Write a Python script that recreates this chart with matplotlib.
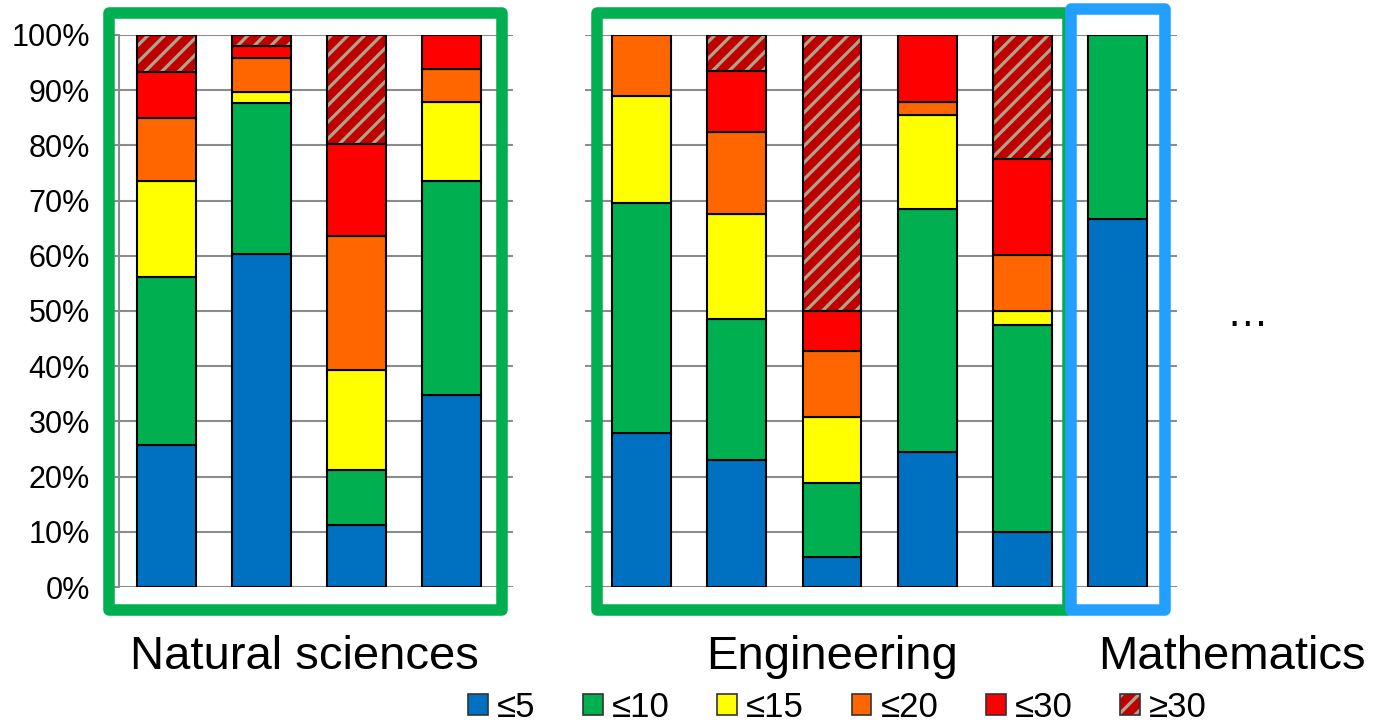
import matplotlib
matplotlib.use("Agg")
import matplotlib.pyplot as plt
import matplotlib.transforms as mtransforms
from matplotlib.patches import Patch, Rectangle
from matplotlib.ticker import PercentFormatter, MultipleLocator

plt.rcParams['font.family'] = ['Liberation Sans', 'DejaVu Sans']
plt.rcParams['hatch.linewidth'] = 2.3

# bar slots (slot 4 is the empty gap between the groups)
positions = [0, 1, 2, 3, 5, 6, 7, 8, 9, 10]
labels = ["≤5", "≤10", "≤15", "≤20", "≤30", "≥30"]
colors = ["#0070c0", "#00b050", "#ffff00", "#ff6600", "#ff0000", "#c00000"]
stripe = "#ada48c"

# share of each class per bar, in percent
le5 = [25.8, 60.4, 11.2, 34.7, 27.9, 23.0, 5.4, 24.4, 10.0, 66.7]
le10 = [30.4, 27.2, 10.0, 38.8, 41.6, 25.6, 13.4, 44.0, 37.5, 33.3]
le15 = [17.3, 2.0, 18.2, 14.3, 19.4, 19.0, 12.0, 17.1, 2.5, 0]
le20 = [11.5, 6.2, 24.1, 6.1, 11.1, 14.9, 11.9, 2.3, 10.1, 0]
le30 = [8.3, 2.2, 16.8, 6.1, 0, 10.9, 7.3, 12.2, 17.5, 0]
ge30 = [6.7, 2.0, 19.7, 0, 0, 6.6, 50.0, 0, 22.4, 0]
series = [le5, le10, le15, le20, le30, ge30]

groups = ["Natural sciences", "Engineering", "Mathematics"]
group_x = [1.45, 7.0, 11.21]

fig = plt.figure(figsize=(13.73, 7.23), dpi=100)
ax = fig.add_axes([0.0867, 0.1881, 0.7706, 0.7635])

width = 0.62
bottom = [0.0] * len(positions)
for k, vals in enumerate(series):
    for i, p in enumerate(positions):
        v = vals[i] / 100.0
        if v <= 0:
            continue
        if k == 5:
            ax.bar(p, v, width, bottom=bottom[i], color=colors[k],
                   edgecolor=stripe, hatch="//", linewidth=0, zorder=2)
            ax.bar(p, v, width, bottom=bottom[i], fill=False,
                   edgecolor="black", linewidth=1.5, zorder=3)
        else:
            ax.bar(p, v, width, bottom=bottom[i], color=colors[k],
                   edgecolor="black", linewidth=1.5, zorder=2)
        bottom[i] += v

ax.set_xlim(-0.5, 10.63)
ax.set_ylim(0, 1)
ax.yaxis.set_major_locator(MultipleLocator(0.1))
ax.yaxis.set_major_formatter(PercentFormatter(1.0, decimals=0))
ax.set_xticks([])
ax.set_axisbelow(True)
ax.grid(axis="y", color="#8c8c8c", linewidth=1.5)
for s in ["top", "right", "bottom"]:
    ax.spines[s].set_visible(False)
ax.spines["left"].set_color("#8c8c8c")
ax.spines["left"].set_linewidth(1.5)
ax.tick_params(axis="y", labelsize=22, length=4, width=1.5, color="#8c8c8c", pad=17)

# white strip hiding the gridlines between the two groups
ax.axvspan(3.645, 4.40, color="white", zorder=1.2, linewidth=0)

trans = mtransforms.blended_transform_factory(ax.transData, ax.transAxes)
boxes = [(-0.609, 3.524, 1.039, "#00b050"),
         (4.528, 9.48, 1.039, "#00b050"),
         (9.512, 10.50, 1.047, "#23a0ff")]
for x0, x1, top, c in boxes:
    ax.add_patch(Rectangle((x0, -0.041), x1 - x0, top + 0.041, transform=trans,
                           fill=False, edgecolor=c, linewidth=8.3,
                           joinstyle="round", clip_on=False, zorder=5))

for name, gx in zip(groups, group_x):
    ax.text(gx, -0.1486, name, transform=trans, ha="center", va="baseline",
            fontsize=34)
ax.text(11.37, 0.493, "…", transform=trans, ha="center", va="center", fontsize=30)

handles = []
for k in range(6):
    if k == 5:
        handles.append((Patch(facecolor=colors[k], edgecolor=stripe, hatch="//", linewidth=0),
                        Patch(fill=False, edgecolor="#333333", linewidth=1.2)))
    else:
        handles.append(Patch(facecolor=colors[k], edgecolor="#333333", linewidth=1.2))
fig.legend(handles, labels, loc="center", bbox_to_anchor=(0.61, 0.022), ncol=6,
           frameon=False, fontsize=25, handlelength=0.57, handleheight=0.55,
           handletextpad=0.26, columnspacing=1.37, borderaxespad=0, borderpad=0)

fig.savefig("out.png", dpi=100)
